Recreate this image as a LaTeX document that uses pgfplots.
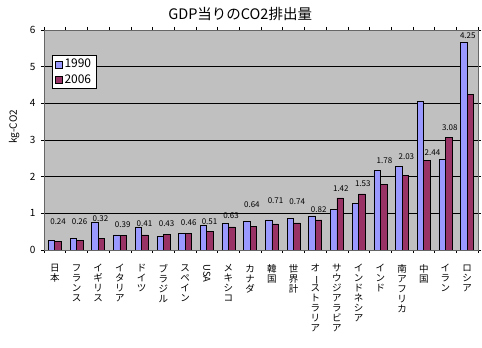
\documentclass[border=0pt]{standalone}
\usepackage{fontspec}
\setmainfont{Noto Sans CJK JP}
\usepackage{graphicx}
\usepackage{pgfplots}
\pgfplotsset{compat=1.18}
\usepackage{pgfplotstable}
\definecolor{cA}{HTML}{9999FF}
\definecolor{cB}{HTML}{993366}
\definecolor{bg}{HTML}{C0C0C0}
\makeatletter
\newcommand\vt[1]{\vbox{\baselineskip=10pt\lineskiplimit=-20pt\@tfor\vt@c:=#1\do{\hbox to 11pt{\hss\vt@c\hss}}}}
\makeatother
\newcommand\cho{{\rotatebox[origin=c]{-90}{ー}}}

\pgfplotstableread{
x v1990 v2006
0 0.27 0.24
1 0.32 0.26
2 0.75 0.32
3 0.41 0.39
4 0.62 0.41
5 0.38 0.43
6 0.45 0.46
7 0.67 0.51
8 0.73 0.63
9 0.79 0.64
10 0.82 0.71
11 0.87 0.74
12 0.93 0.82
13 1.11 1.42
14 1.28 1.53
15 2.17 1.78
16 2.29 2.03
17 4.06 2.44
18 2.47 3.08
19 5.67 4.25
}\datatable

\pgfplotstableread{
x y lab
0.15 0.76 0.24
1.14 0.77 0.26
2.10 0.85 0.32
3.13 0.70 0.39
4.13 0.72 0.41
5.15 0.72 0.43
6.17 0.75 0.46
7.13 0.78 0.51
8.12 0.93 0.63
9.08 1.25 0.64
10.17 1.34 0.71
11.17 1.31 0.74
12.16 1.09 0.82
13.18 1.68 1.42
14.19 1.80 1.53
15.19 2.45 1.78
16.20 2.54 2.03
17.40 2.65 2.44
18.20 3.35 3.08
19.03 5.85 4.25
}\labtable

\begin{document}
\begin{tikzpicture}
\begin{axis}[
  scale only axis,
  width=434pt, height=220pt,
  xmin=-0.5, xmax=19.5,
  ymin=0, ymax=6,
  ytick={0,1,2,3,4,5,6},
  xtick={0,...,19},
  minor xtick={-0.5,0.5,...,19.5},
  major x tick style={draw=none},
  minor x tick style={black, line width=0.6pt},
  minor tick length=3pt,
  major tick length=3pt,
  tick align=outside,
  ytick style={black, line width=0.6pt},
  ymajorgrids,
  grid style={black, line width=0.7pt},
  axis background/.style={fill=bg},
  axis line style={draw=gray!80!black, line width=0.6pt},
  /pgf/number format/assume math mode=true,
  tick label style={font=\fontsize{10}{12}\selectfont},
  yticklabel style={xshift=-2pt},
  xticklabel style={anchor=north, yshift=-8pt, font=\fontsize{9.5}{10}\selectfont},
  xticklabels={
    {\vt{日本}},
    {\vt{フランス}},
    {\vt{イギリス}},
    {\vt{イタリア}},
    {\vt{ドイツ}},
    {\vt{ブラジル}},
    {\vt{スペイン}},
    {\rotatebox{-90}{USA}},
    {\vt{メキシコ}},
    {\vt{カナダ}},
    {\vt{韓国}},
    {\vt{世界計}},
    {\vt{オ\cho ストラリア}},
    {\vt{サウジアラビア}},
    {\vt{インドネシア}},
    {\vt{インド}},
    {\vt{南アフリカ}},
    {\vt{中国}},
    {\vt{イラン}},
    {\vt{ロシア}}
  },
  title={GDP当りのCO2排出量},
  title style={at={(0.452,1)}, anchor=center, yshift=10pt, font=\fontsize{14.5}{16}\selectfont},
  ylabel={kg-CO2},
  ylabel style={at={(-0.069,0.56)}, anchor=center, font=\fontsize{10}{12}\selectfont},
  legend style={at={(0.018,0.886)}, anchor=north west, draw=black, fill=white,
    font=\fontsize{12}{14}\selectfont, inner xsep=3pt, inner ysep=2pt, row sep=1pt,
    legend cell align=left},
  legend image code/.code={\draw[#1,draw=black,line width=0.5pt] (0pt,-3.5pt) rectangle (7pt,3.5pt);},
]
\addplot[ybar, bar width=6.5pt, bar shift=-3.25pt, fill=cA, draw=black, line width=0.7pt]
  table[x=x, y=v1990] {\datatable};
\addlegendentry{1990}
\addplot[ybar, bar width=6.5pt, bar shift=3.25pt, fill=cB, draw=black, line width=0.7pt]
  table[x=x, y=v2006] {\datatable};
\addlegendentry{2006}
\addplot[only marks, mark=none, draw=none, forget plot,
  nodes near coords, point meta=explicit symbolic,
  nodes near coords style={anchor=center, text=black, font=\fontsize{8}{9}\selectfont}]
  table[x=x, y=y, meta=lab] {\labtable};
\coordinate (SW) at (rel axis cs:0,0);
\coordinate (NE) at (rel axis cs:1,1);
\end{axis}
\pgfresetboundingbox
\path[use as bounding box] ([shift={(-44pt,-98pt)}]SW) rectangle ([shift={(4pt,30pt)}]NE);
\end{tikzpicture}
\end{document}
